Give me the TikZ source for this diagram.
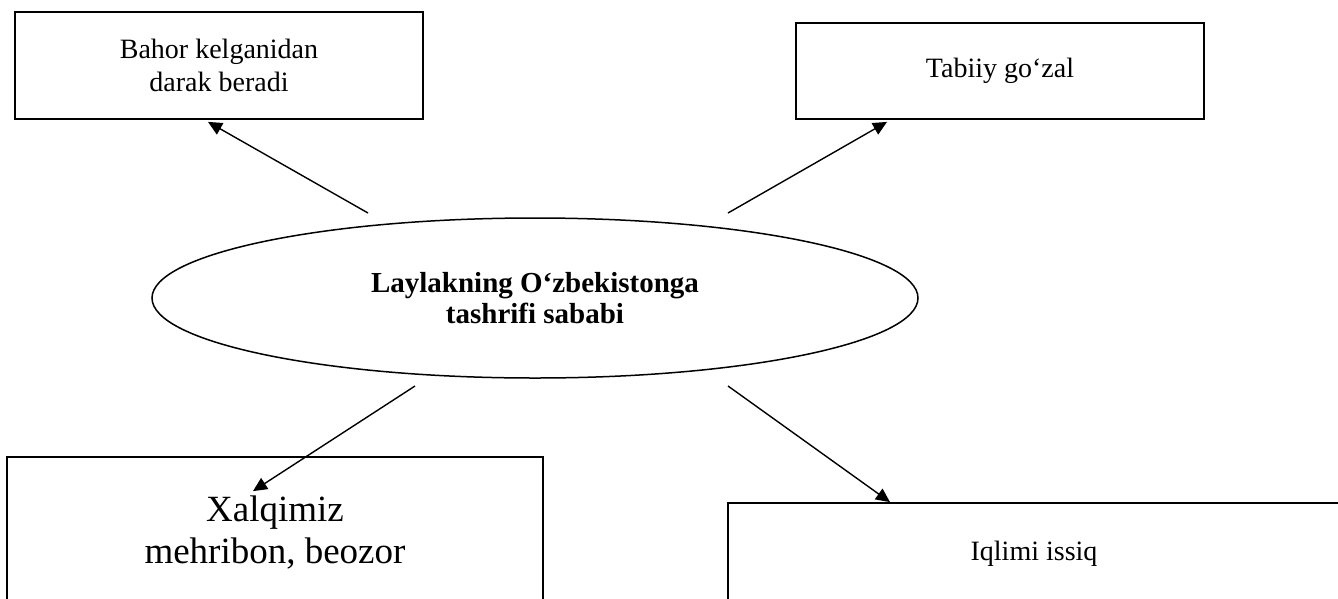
\documentclass[tikz,border=0pt]{standalone}
\usepackage{fontspec}
\setmainfont{Liberation Serif}
\usetikzlibrary{positioning}
\usetikzlibrary{calc}
\usetikzlibrary{shapes}
\usetikzlibrary{arrows.meta}

\begin{document}
\begin{tikzpicture}[x=1pt, y=-1pt,
			box/.style={draw, line width=1.8pt, align=center, inner sep=0pt, font=\fontsize{28}{33}\selectfont},
			arr/.style={-{Triangle[length=14pt,width=13pt]}, line width=1.4pt}]
			%\draw[step=50,gray,very thin] (0,0) grid (1338,598);
			\clip (0,0) rectangle (1338,598);
			\node[draw, ellipse, line width=1.5pt, minimum width=766pt, minimum height=160pt, inner sep=0pt, align=center, font=\bfseries\fontsize{29}{31}\selectfont] (laylak) at (535,298) {Laylakning O‘zbekistonga\\tashrifi sababi};
			\node[box, minimum width=408pt, minimum height=107pt] (bahor) at (219,65.5) {Bahor kelganidan\\darak beradi};
			\node[box, minimum width=408pt, minimum height=96pt] (tabiiy) at (1000,71) {Tabiiy go‘zal};
			\node[box, minimum width=536pt, minimum height=150pt, font=\fontsize{37}{42}\selectfont] (xalq) at (275,532) {Xalqimiz\\mehribon, beozor};
			\node[box, minimum width=612pt, minimum height=102pt] (iqlim) at (1034,554) {Iqlimi issiq};
			\coordinate (s1) at ($(laylak.center)+(-167,-85)$);
			\coordinate (s2) at ($(laylak.center)+(193,-85)$);
			\coordinate (s3) at ($(laylak.center)+(-120,88)$);
			\coordinate (s4) at ($(laylak.center)+(193,88)$);
			\draw[arr] (s1) -- ($(bahor.south)+(-11,2)$);
			\draw[arr] (s2) -- ($(tabiiy.south)+(-113,2)$);
			\draw[arr] (s3) -- ($(xalq.north)+(-22,35)$);
			\draw[arr] (s4) -- ($(iqlim.north)+(-144,0)$);
		\end{tikzpicture}
\end{document}
